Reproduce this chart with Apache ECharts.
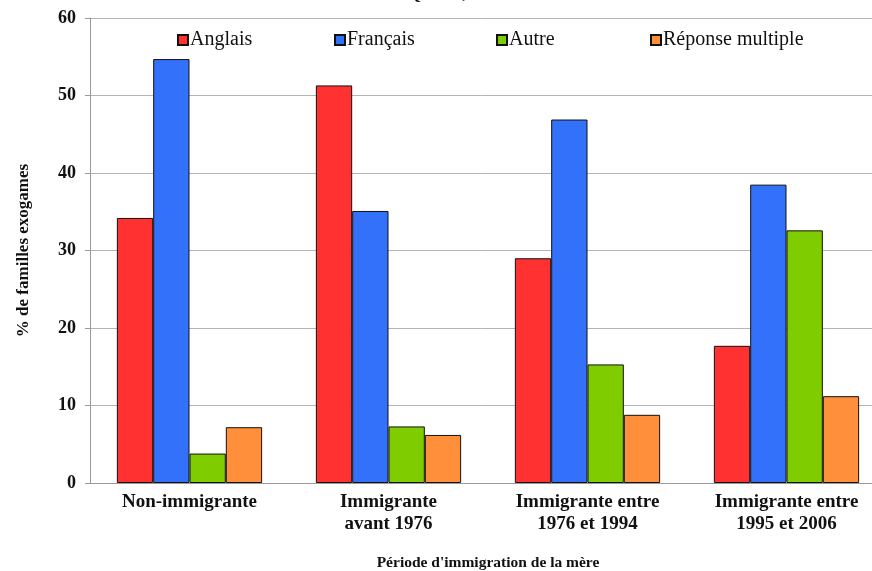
<!DOCTYPE html>
<html>
<head>
<meta charset="utf-8">
<script src="https://cdn.jsdelivr.net/npm/echarts@6/dist/echarts.min.js"></script>
<style>
  html, body { margin: 0; padding: 0; background: #fff; }
  #chart { width: 872px; height: 571px; }
</style>
</head>
<body>
<div id="chart"></div>
<script>
// Périodes d'immigration de la mère (axe des catégories)
const periodes = [
  'Non-immigrante',
  'Immigrante\navant 1976',
  'Immigrante entre\n1976 et 1994',
  'Immigrante entre\n1995 et 2006'
];

// % de familles exogames selon la langue
const anglais = [34.2, 51.3, 29.0, 17.7];
const francais = [54.7, 35.1, 46.9, 38.5];
const autre = [3.8, 7.3, 15.3, 32.6];
const reponseMultiple = [7.2, 6.2, 8.8, 11.2];

const yTicks = [0, 10, 20, 30, 40, 50, 60];

const serif = '"Liberation Serif", "DejaVu Serif", serif';

const seriesDefs = [
  { name: 'Anglais', data: anglais, color: '#FF3131' },
  { name: 'Français', data: francais, color: '#3471FA' },
  { name: 'Autre', data: autre, color: '#7FCC00' },
  { name: 'Réponse multiple', data: reponseMultiple, color: '#FF8F3B' }
];

const legendLeft = [177, 334, 496, 650];

const chart = echarts.init(document.getElementById('chart'), null, { renderer: 'canvas' });

chart.setOption({
  animation: false,
  backgroundColor: '#fff',
  title: {
    text: 'Enfants de moins de 18 ans au Québec, 2006',
    right: 362,
    top: -19,
    textStyle: { fontFamily: serif, fontSize: 17, fontWeight: 'bold', color: '#111' }
  },
  legend: seriesDefs.map((s, i) => ({
    data: [s.name],
    left: legendLeft[i],
    top: 30,
    padding: 0,
    icon: 'rect',
    itemWidth: 10,
    itemHeight: 10,
    itemGap: 3,
    textStyle: { fontFamily: serif, fontSize: 20, color: '#111', padding: [0, 0, 0, -3] },
    selectedMode: false
  })),
  // the plot runs slightly past the right edge of the canvas
  grid: { left: 90, right: -14, top: 18, bottom: 88, containLabel: false, outerBoundsMode: 'none' },
  xAxis: {
    type: 'category',
    data: periodes,
    name: "Période d'immigration de la mère",
    nameLocation: 'middle',
    nameGap: 72,
    nameTextStyle: { fontFamily: serif, fontSize: 15.5, fontWeight: 'bold', color: '#111' },
    axisLine: { lineStyle: { color: '#999', width: 1 } },
    axisTick: { show: false },
    axisLabel: {
      fontFamily: serif, fontSize: 19, fontWeight: 'bold', color: '#111',
      lineHeight: 22, margin: 8, interval: 0
    }
  },
  yAxis: {
    type: 'value',
    min: 0,
    max: 60,
    interval: 10,
    name: '% de familles exogames',
    nameLocation: 'middle',
    nameGap: 58,
    nameTextStyle: { fontFamily: serif, fontSize: 17, fontWeight: 'bold', color: '#111' },
    axisLine: { show: true, lineStyle: { color: '#999', width: 1 } },
    axisTick: { show: true, length: 5, lineStyle: { color: '#999' } },
    axisLabel: {
      fontFamily: serif, fontSize: 18, fontWeight: 'bold', color: '#111', margin: 14,
      formatter: v => (yTicks.includes(v) ? String(v) : '')
    },
    splitLine: { lineStyle: { color: '#b4b4b4', width: 1 } }
  },
  series: seriesDefs.map(s => ({
    name: s.name,
    type: 'bar',
    data: s.data,
    barGap: '0%',
    barCategoryGap: '27%',
    itemStyle: { color: s.color, borderColor: '#111', borderWidth: 1 }
  }))
});
</script>
</body>
</html>
